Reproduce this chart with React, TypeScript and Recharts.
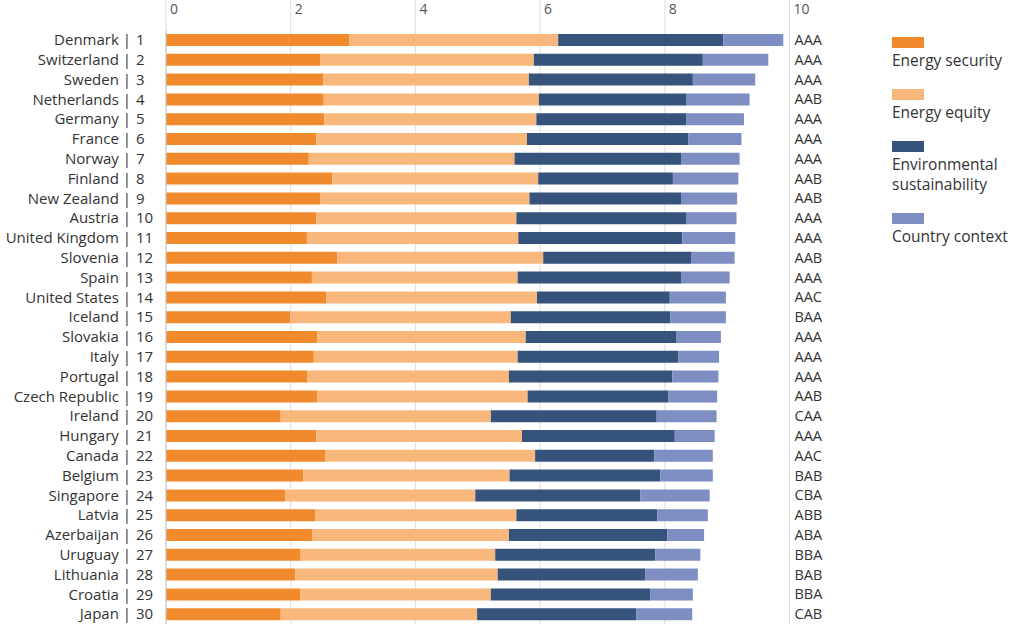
import { Bar, BarChart, CartesianGrid, Legend, XAxis, YAxis } from "recharts";

const countries = [
    "Denmark", "Switzerland", "Sweden", "Netherlands", "Germany", "France", "Norway", "Finland",
    "New Zealand", "Austria", "United Kingdom", "Slovenia", "Spain", "United States", "Iceland",
    "Slovakia", "Italy", "Portugal", "Czech Republic", "Ireland", "Hungary", "Canada", "Belgium",
    "Singapore", "Latvia", "Azerbaijan", "Uruguay", "Lithuania", "Croatia", "Japan",
];
const ranks = [1, 2, 3, 4, 5, 6, 7, 8, 9, 10, 11, 12, 13, 14, 15, 16, 17, 18, 19, 20, 21, 22, 23, 24, 25, 26, 27, 28, 29, 30];
const grades = [
    "AAA", "AAA", "AAA", "AAB", "AAA", "AAA", "AAA", "AAB", "AAB", "AAA", "AAA", "AAB", "AAA", "AAC", "BAA",
    "AAA", "AAA", "AAA", "AAB", "CAA", "AAA", "AAC", "BAB", "CBA", "ABB", "ABA", "BBA", "BAB", "BBA", "CAB",
];
const security = [
    2.94, 2.47, 2.52, 2.53, 2.54, 2.41, 2.29, 2.67, 2.47, 2.41, 2.26, 2.75, 2.34, 2.57, 1.99,
    2.43, 2.37, 2.27, 2.43, 1.84, 2.41, 2.55, 2.2, 1.91, 2.39, 2.35, 2.16, 2.07, 2.15, 1.84,
];
const equity = [
    3.35, 3.43, 3.3, 3.45, 3.4, 3.38, 3.3, 3.3, 3.36, 3.21, 3.39, 3.3, 3.3, 3.38, 3.54,
    3.34, 3.27, 3.23, 3.37, 3.37, 3.3, 3.37, 3.31, 3.05, 3.23, 3.15, 3.12, 3.25, 3.06, 3.15,
];
const sustainability = [
    2.65, 2.71, 2.63, 2.37, 2.41, 2.59, 2.68, 2.16, 2.43, 2.72, 2.63, 2.37, 2.62, 2.13, 2.56,
    2.42, 2.58, 2.62, 2.26, 2.66, 2.45, 1.91, 2.42, 2.65, 2.26, 2.54, 2.57, 2.37, 2.56, 2.55,
];
const context = [
    0.96, 1.05, 1.0, 1.01, 0.92, 0.85, 0.93, 1.05, 0.9, 0.81, 0.85, 0.7, 0.78, 0.9, 0.89,
    0.71, 0.65, 0.74, 0.78, 0.96, 0.64, 0.94, 0.84, 1.11, 0.81, 0.59, 0.72, 0.84, 0.68, 0.9,
];
const xTicks = [0, 2, 4, 6, 8, 10];

const seriesKeys = ["security", "equity", "sustainability", "context"];
const seriesNames = ["Energy security", "Energy equity", "Environmental sustainability", "Country context"];
const seriesColors = ["#F18A2D", "#F8B87C", "#36537C", "#7E8EC2"];

const data = countries.map((c, i) => ({
    label: `${c} | ${ranks[i]}`,
    grade: grades[i],
    security: security[i],
    equity: equity[i],
    sustainability: sustainability[i],
    context: context[i],
}));

const FONT = "'Open Sans', sans-serif";

function CountryTick(props: any) {
    const { x, y, payload } = props;
    const [name, rank] = String(payload.value).split(" | ");
    return (
        <g>
            <text x={x - 35} y={y} dy="0.35em" textAnchor="end" fontSize={15} fill="#333" fontFamily={FONT}>
                {name} |
            </text>
            <text x={x - 30} y={y} dy="0.35em" textAnchor="start" fontSize={15} fill="#333" fontFamily={FONT}>
                {rank}
            </text>
        </g>
    );
}

function GradeTick(props: any) {
    const { x, y, payload } = props;
    return (
        <text x={x + 5} y={y} dy="0.35em" textAnchor="start" fontSize={14.5} fill="#333" fontFamily={FONT}>
            {payload.value}
        </text>
    );
}

function ScoreTick(props: any) {
    const { x, payload } = props;
    return (
        <text x={x + 4} y={14} textAnchor="start" fontSize={14} fill="#555" fontFamily={FONT}>
            {payload.value}
        </text>
    );
}

function LegendBox() {
    return (
        <div style={{ fontFamily: FONT, fontSize: 15.5, color: "#333", width: 125 }}>
            {seriesNames.map((name, i) => (
                <div key={name} style={{ marginBottom: 19 }}>
                    <div style={{ width: 32, height: 11, background: seriesColors[i] }} />
                    <div style={{ marginTop: 2, lineHeight: "20px" }}>{name}</div>
                </div>
            ))}
        </div>
    );
}

export default function App() {
    return (
        <div style={{ position: "absolute", left: 0, top: 0, background: "#fff" }}>
            <BarChart
                width={1024}
                height={625}
                data={data}
                layout="vertical"
                margin={{ top: 0, right: 174.5, bottom: 1, left: 0 }}
            >
                <CartesianGrid horizontal={false} stroke="#dedede" />
                <XAxis
                    type="number"
                    orientation="top"
                    domain={[0, 10]}
                    ticks={xTicks}
                    height={30}
                    axisLine={false}
                    tickSize={30}
                    tickLine={{ stroke: "#dedede" }}
                    tick={<ScoreTick />}
                />
                <YAxis
                    type="category"
                    dataKey="label"
                    width={166}
                    tickSize={0}
                    tickMargin={0}
                    axisLine={{ stroke: "#c8c8c8" }}
                    tick={<CountryTick />}
                    interval={0}
                />
                <YAxis
                    yAxisId="grade"
                    type="category"
                    dataKey="grade"
                    orientation="right"
                    width={60}
                    tickSize={0}
                    tickMargin={0}
                    axisLine={{ stroke: "#dedede" }}
                    tick={<GradeTick />}
                    interval={0}
                />
                <Legend
                    layout="vertical"
                    align="center"
                    verticalAlign="middle"
                    wrapperStyle={{ left: 892, top: 37, width: 125 }}
                    content={<LegendBox />}
                />
                {seriesKeys.map((k, i) => (
                    <Bar
                        key={k}
                        dataKey={k}
                        name={seriesNames[i]}
                        stackId="s"
                        fill={seriesColors[i]}
                        barSize={12}
                        isAnimationActive={false}
                    />
                ))}
            </BarChart>
        </div>
    );
}
